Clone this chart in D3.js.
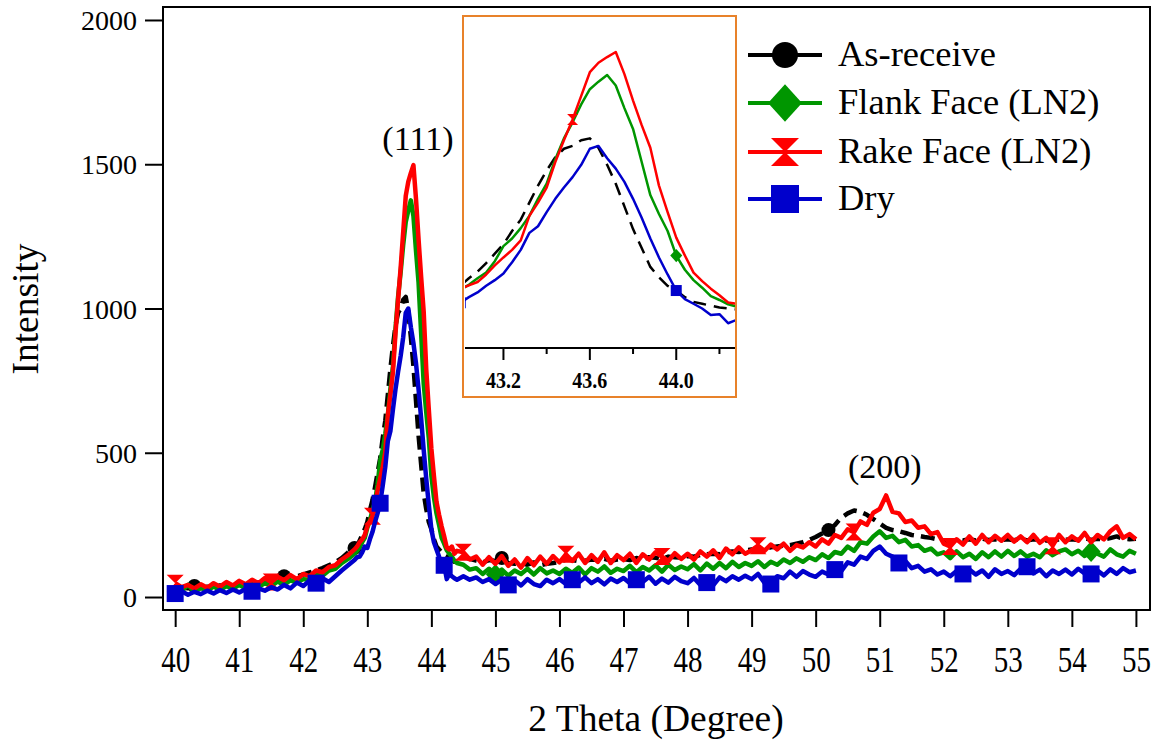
<!DOCTYPE html>
<html lang="en">
<head>
<meta charset="utf-8">
<script src="https://cdn.jsdelivr.net/npm/d3@7/dist/d3.min.js"></script>
<style>
body{margin:0;background:#fff;}
svg{display:block;font-family:"Liberation Serif","Times New Roman",serif;}
svg text{font-family:"Liberation Serif","Times New Roman",serif;}
</style>
</head>
<body>
<div id="chart"></div>
<script>
// ---- scan positions (2 theta, degree) ----
const thetaLow=[40.0,40.1,40.2,40.3,40.4,40.5,40.6,40.7,40.8,40.9,41.0,41.1,41.2,41.3,41.4,41.5,41.6,41.7,41.8,41.9,42.0,42.1,42.2,42.3,42.4,42.5,42.6,42.7]
const thetaPeak=[42.80,42.84,42.88,42.92,42.96,43.00,43.04,43.08,43.12,43.16,43.20,43.24,43.28,43.32,43.36,43.40,43.44,43.48,43.52,43.56,43.60,43.64,43.68,43.72,43.76,43.80,43.84,43.88,43.92,43.96,44.00,44.04,44.08,44.12,44.16,44.20,44.24,44.28,44.32,44.36,44.40]
const thetaHigh=[44.5,44.6,44.7,44.8,44.9,
45.0,45.1,45.2,45.3,45.4,45.5,45.6,45.7,45.8,45.9,
46.0,46.1,46.2,46.3,46.4,46.5,46.6,46.7,46.8,46.9,
47.0,47.1,47.2,47.3,47.4,47.5,47.6,47.7,47.8,47.9,
48.0,48.1,48.2,48.3,48.4,48.5,48.6,48.7,48.8,48.9,
49.0,49.1,49.2,49.3,49.4,49.5,49.6,49.7,49.8,49.9,
50.0,50.1,50.2,50.3,50.4,50.5,50.6,50.7,50.8,50.9,
51.0,51.1,51.2,51.3,51.4,51.5,51.6,51.7,51.8,51.9,
52.0,52.1,52.2,52.3,52.4,52.5,52.6,52.7,52.8,52.9,
53.0,53.1,53.2,53.3,53.4,53.5,53.6,53.7,53.8,53.9,
54.0,54.1,54.2,54.3,54.4,54.5,54.6,54.7,54.8,54.9,
55.0]

// ---- intensities ----
const asReceiveLow=[35,32,30,38,30,36,34,40,38,42,45,42,48,50,55,58,62,72,70,72,78,85,92,100,110,120,135,155]
const asReceivePeak=[170,175,195,215,235,260,300,335,380,430,480,550,610,700,790,870,940,985,1000,1030,1040,990,900,800,680,560,460,360,305,260,235,200,175,165,155,145,140,135,128,122,125]
const asReceiveHigh=[140,132,126,120,128,
125,135,118,115,118,112,120,110,115,118,
122,130,128,124,126,130,128,132,126,130,
132,128,135,130,138,136,132,140,138,136,
142,140,146,148,150,148,155,158,156,162,
165,168,170,172,175,178,180,185,190,198,
208,220,232,250,275,290,300,295,285,270,
255,240,232,228,222,215,212,208,205,200,
196,194,198,196,200,196,202,198,200,198,
200,197,202,196,200,198,196,194,200,198,
200,198,204,198,202,200,204,210,202,200,
202]

const flankLow=[30,20,42,18,32,22,36,24,38,28,42,30,46,34,48,38,54,42,58,50,62,60,76,74,92,98,118,132]
const flankPeak=[150,160,172,190,205,240,265,300,330,390,470,510,565,630,720,800,930,1040,1125,1220,1300,1340,1375,1320,1200,1090,915,740,640,550,420,345,290,250,205,185,162,150,140,125,118]
const flankHigh=[112,95,100,80,98,
78,95,74,92,80,98,78,100,82,92,
80,98,84,102,78,100,88,106,84,98,
90,108,86,104,92,110,88,112,94,106,
96,114,92,116,98,118,100,122,104,118,
108,124,104,122,112,130,118,134,122,138,
128,148,135,156,150,175,160,190,185,210,
228,205,212,190,198,175,180,160,168,148,
155,135,158,138,150,132,155,138,158,140,
160,142,158,140,150,138,162,145,158,165,
148,160,142,158,150,140,165,148,140,160,
150]

const rakeLow=[48,34,42,30,44,32,48,36,52,40,56,44,60,48,66,52,70,58,76,62,80,72,92,86,104,110,130,145]
const rakePeak=[165,175,190,200,215,245,262,280,320,368,410,450,500,630,700,780,915,1030,1140,1265,1390,1440,1470,1497,1380,1240,1110,990,790,650,515,420,330,285,245,210,172,165,175,150,160]
const rakeHigh=[155,130,140,112,138,
115,142,108,130,102,135,110,140,115,142,
120,148,125,150,118,145,122,155,118,145,
128,150,118,148,130,155,140,125,152,132,
150,130,158,140,162,135,168,148,172,150,
162,178,160,182,165,185,160,180,172,190,
175,200,185,215,205,235,225,262,250,292,
305,352,295,290,260,265,240,245,218,225,
185,175,200,182,210,185,215,190,212,195,
215,192,210,190,215,188,205,178,215,190,
210,195,222,190,215,200,228,245,205,218,
200]

const dryLow=[12,20,8,18,10,22,12,24,14,26,16,28,20,30,22,34,26,42,30,50,38,58,48,65,52,72,92,110]
const dryPeak=[128,138,140,155,175,170,200,225,260,290,325,385,450,540,575,650,720,780,835,900,985,1000,935,880,810,720,620,510,410,320,235,190,165,140,105,110,62,80,72,65,60]
const dryHigh=[72,60,68,52,62,
45,60,42,58,40,62,45,38,60,48,
62,45,60,50,68,48,62,44,64,52,
66,48,60,52,70,46,64,50,70,55,
48,66,42,50,40,68,55,72,60,74,
62,80,50,45,72,65,88,70,90,78,
70,88,78,95,90,120,112,140,132,160,
175,150,140,118,125,100,108,88,96,78,
88,72,90,80,95,78,92,70,96,80,
90,76,98,105,82,95,72,92,80,95,
78,98,82,80,92,75,96,80,100,86,
92]

// marker positions (2 theta) in the main graph and in the inset
const asReceiveMarks=[40.3,41.7,42.8,45.1,50.2]
const flankMarks=[45.0,54.3]
const rakeMarks=[40.0,41.5,43.08,44.5,46.1,47.6,49.1,50.6,52.1,53.7]
const dryMarks=[40.0,41.2,42.2,43.2,44.2,45.2,46.2,47.2,48.3,49.3,50.3,51.3,52.3,53.3,54.3]
const insetFlankMarks=[44.0]
const insetRakeMarks=[43.52]
const insetDryMarks=[43.0,44.0]

const xTicks=[40,41,42,43,44,45,46,47,48,49,50,51,52,53,54,55]
const yTicks=[0,500,1000,1500,2000]
const insetMajor=[43.2,43.6,44.0]
const insetMinor=[43.4,43.8,44.2]
const seriesNames=["As-receive","Flank Face (LN2)","Rake Face (LN2)","Dry"]

////////////////////////////////////////////////////////////
const FONT='"Liberation Serif","Times New Roman",serif'
const theta=thetaLow.concat(thetaPeak,thetaHigh)
const series=[
 {name:seriesNames[0],color:"#000000",dash:"14,7",shape:"circle",vals:asReceiveLow.concat(asReceivePeak,asReceiveHigh),marks:asReceiveMarks,imarks:[]},
 {name:seriesNames[1],color:"#009600",dash:null,shape:"diamond",vals:flankLow.concat(flankPeak,flankHigh),marks:flankMarks,imarks:insetFlankMarks},
 {name:seriesNames[2],color:"#ff0000",dash:null,shape:"hourglass",vals:rakeLow.concat(rakePeak,rakeHigh),marks:rakeMarks,imarks:insetRakeMarks},
 {name:seriesNames[3],color:"#0000cc",dash:null,shape:"square",vals:dryLow.concat(dryPeak,dryHigh),marks:dryMarks,imarks:insetDryMarks}
]
series.forEach(s=>{s.pts=theta.map((t,i)=>({t:t,v:s.vals[i]}))})

function nearest(s,t){ //snap a marker to the closest scan point
 let i=d3.leastIndex(theta,(a,b)=>Math.abs(a-t)-Math.abs(b-t))
 return s.pts[i]
}
function markPath(shape,sz){
 const h=sz/2
 if(shape=="circle") return d3.symbol(d3.symbolCircle,Math.PI*h*h)()
 if(shape=="diamond") return `M0,${-h*1.1}L${h},0L0,${h*1.1}L${-h},0Z`
 if(shape=="hourglass") return `M${-h},${-h}L${h},${-h}L${-h},${h}L${h},${h}Z`
 return `M${-h},${-h}L${h},${-h}L${h},${h}L${-h},${h}Z`
}

const W=1158,H=742
const svg=d3.select("#chart").append("svg").attr("width",W).attr("height",H)
svg.append("rect").attr("width",W).attr("height",H).attr("fill","#fff")

const x=d3.scaleLinear().domain([39.81,55.22]).range([163,1150])
const y=d3.scaleLinear().domain([-45,2045]).range([610,7])

// axes
const gx=svg.append("g").attr("transform","translate(0,610)")
 .call(d3.axisBottom(x).tickValues(xTicks).tickSize(17).tickFormat(d3.format("d")))
 .attr("font-family",null).attr("font-size",null)
gx.select(".domain").remove()
gx.selectAll("line").attr("stroke","#000").attr("stroke-width",2)
gx.selectAll("text").attr("y",null).attr("dy",null).attr("fill","#000")
 .style("font-family",FONT).style("font-size","29px").attr("transform","translate(0,62) scale(1,1.2)")

const gy=svg.append("g").attr("transform","translate(163,0)")
 .call(d3.axisLeft(y).tickValues(yTicks).tickSize(18).tickPadding(8).tickFormat(d3.format("d")))
 .attr("font-family",null).attr("font-size",null)
gy.select(".domain").remove()
gy.selectAll("line").attr("stroke","#000").attr("stroke-width",2)
gy.selectAll("text").attr("fill","#000").style("font-family",FONT).style("font-size","28px").attr("dy","0.34em")

svg.append("text").attr("x",656).attr("y",731).attr("text-anchor","middle")
 .style("font-size","37.5px").text("2 Theta (Degree)")
svg.append("text").attr("transform","translate(38,309) rotate(-90)").attr("text-anchor","middle")
 .style("font-size","37.5px").text("Intensity")

// traces
const line=d3.line().x(d=>x(d.t)).y(d=>y(d.v))
const plot=svg.append("g")
series.forEach(s=>{
 plot.append("path").datum(s.pts).attr("d",line).attr("fill","none").attr("stroke",s.color)
  .attr("stroke-width",4.5).attr("stroke-linejoin","round").attr("stroke-dasharray",s.dash)
 plot.selectAll(null).data(s.marks.map(t=>nearest(s,t))).enter().append("path")
  .attr("d",markPath(s.shape,s.shape=="circle"?14:s.shape=="diamond"?19:17))
  .attr("transform",d=>`translate(${x(d.t)},${y(d.v)})`).attr("fill",s.color)
})

// frame
svg.append("rect").attr("x",163).attr("y",7).attr("width",987).attr("height",603)
 .attr("fill","none").attr("stroke","#000").attr("stroke-width",2)

// peak labels
svg.append("text").attr("x",x(43.79)).attr("y",y(1549)).attr("text-anchor","middle").style("font-size","34px").text("(111)")
svg.append("text").attr("x",x(51.08)).attr("y",y(412)).attr("text-anchor","middle").style("font-size","34px").text("(200)")

// ---- inset ----
const ix=d3.scaleLinear().domain([43.022,44.272]).range([465,735])
const iy=d3.scaleLinear().domain([-69,1682]).range([348,17])
const inset=svg.append("g")
inset.append("rect").attr("x",463).attr("y",16).attr("width",273).attr("height",381)
 .attr("fill","#fff").attr("stroke","#e8822a").attr("stroke-width",2)
svg.append("clipPath").attr("id","iclip").append("rect").attr("x",465).attr("y",17).attr("width",270).attr("height",331)
const iplot=inset.append("g").attr("clip-path","url(#iclip)")
const iline=d3.line().x(d=>ix(d.t)).y(d=>iy(d.v))
series.forEach(s=>{
 iplot.append("path").datum(s.pts.filter(d=>d.t>42.9&&d.t<44.4)).attr("d",iline).attr("fill","none")
  .attr("stroke",s.color).attr("stroke-width",2.5).attr("stroke-linejoin","round").attr("stroke-dasharray",s.dash?"13,8":null)
 iplot.selectAll(null).data(s.imarks.map(t=>nearest(s,t))).enter().append("path")
  .attr("d",markPath(s.shape,s.shape=="diamond"?12:11))
  .attr("transform",d=>`translate(${ix(d.t)},${iy(d.v)})`).attr("fill",s.color)
})
inset.append("line").attr("x1",465).attr("x2",735).attr("y1",348).attr("y2",348).attr("stroke","#000").attr("stroke-width",2)
inset.selectAll(null).data(insetMajor.concat(insetMinor)).enter().append("line")
 .attr("x1",d=>ix(d)).attr("x2",d=>ix(d)).attr("y1",348).attr("y2",d=>insetMajor.includes(d)?360:354)
 .attr("stroke","#000").attr("stroke-width",2)
inset.selectAll(null).data(insetMajor).enter().append("text")
 .attr("transform",d=>`translate(${ix(d)},388) scale(1,1.15)`).attr("text-anchor","middle")
 .style("font-size","20px").style("font-weight","bold").text(d=>d3.format(".1f")(d))

// ---- legend ----
const legY=[55,103,152,199]
const leg=svg.append("g")
series.forEach((s,i)=>{
 leg.append("line").attr("x1",748).attr("x2",822).attr("y1",legY[i]).attr("y2",legY[i])
  .attr("stroke",s.color).attr("stroke-width",4)
 leg.append("path").attr("d",markPath(s.shape,s.shape=="circle"?26:s.shape=="diamond"?34:28))
  .attr("transform",`translate(785,${legY[i]})`).attr("fill",s.color)
 leg.append("text").attr("x",838).attr("y",legY[i]+11).style("font-size","36.5px").text(s.name)
})
</script>
</body>
</html>
